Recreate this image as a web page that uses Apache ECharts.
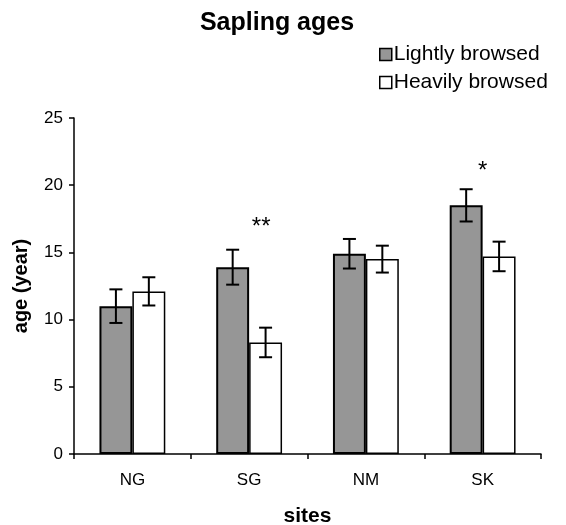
<!DOCTYPE html>
<html>
<head>
<meta charset="utf-8">
<script src="https://cdn.jsdelivr.net/npm/echarts@6/dist/echarts.min.js"></script>
<style>html,body{margin:0;padding:0;background:#fff}#c{width:566px;height:525px}</style>
</head>
<body>
<div id="c"></div>
<script>
const categories = ['NG', 'SG', 'NM', 'SK'];
const lightly = [11.0, 13.9, 14.9, 18.5];
const lightlyErr = [1.25, 1.3, 1.1, 1.2];
const heavily = [12.1, 8.3, 14.5, 14.7];
const heavilyErr = [1.05, 1.1, 1.0, 1.1];
const yTicks = [0, 5, 10, 15, 20, 25];
const sigLabels = ['', '**', '', '*'];
const sigValues = [null, 17.2, null, 21.4];

const FONT = '"Liberation Sans", Arial, sans-serif';
const BAR_FRAC = 0.282;

function errSeries(vals, errs, side) {
  return {
    type: 'custom',
    z: 5,
    silent: true,
    data: vals.map((v, i) => [i, v, errs[i]]),
    renderItem: function (params, api) {
      const i = api.value(0), v = api.value(1), e = api.value(2);
      const band = api.size([1, 0])[0];
      const off = side * band * BAR_FRAC / 2;
      const top = api.coord([i, v + e]);
      const bot = api.coord([i, v - e]);
      const x = top[0] + off;
      const cap = 6.5;
      const st = { stroke: '#000', lineWidth: 2, fill: null };
      return {
        type: 'group',
        children: [
          { type: 'line', shape: { x1: x, y1: top[1], x2: x, y2: bot[1] }, style: st },
          { type: 'line', shape: { x1: x - cap, y1: top[1], x2: x + cap, y2: top[1] }, style: st },
          { type: 'line', shape: { x1: x - cap, y1: bot[1], x2: x + cap, y2: bot[1] }, style: st }
        ]
      };
    }
  };
}

const chart = echarts.init(document.getElementById('c'), null, { renderer: 'canvas' });
chart.setOption({
  animation: false,
  backgroundColor: '#fff',
  textStyle: { fontFamily: FONT },
  title: {
    text: 'Sapling ages',
    left: 272, top: 6, textAlign: 'center',
    textStyle: { fontFamily: FONT, fontSize: 25, fontWeight: 'bold', color: '#000' }
  },
  legend: {
    orient: 'vertical',
    left: 379, top: 44, padding: 0,
    itemWidth: 12, itemHeight: 12, itemGap: 7,
    icon: 'rect',
    textStyle: { fontFamily: FONT, fontSize: 21, color: '#000', padding: [0, 0, 0, -3] },
    data: [
      { name: 'Lightly browsed', itemStyle: { color: '#969696', borderColor: '#000', borderWidth: 1.5 } },
      { name: 'Heavily browsed', itemStyle: { color: '#fff', borderColor: '#000', borderWidth: 1.5 } }
    ]
  },
  grid: { left: 74, right: 25, top: 118, bottom: 71, containLabel: false, outerBoundsMode: 'none' },
  xAxis: {
    type: 'category',
    data: categories,
    name: 'sites',
    nameLocation: 'middle',
    nameGap: 52,
    nameTextStyle: { fontFamily: FONT, fontSize: 21, fontWeight: 'bold', color: '#000' },
    axisLine: { lineStyle: { color: '#000', width: 1.5 } },
    axisTick: { show: true, length: 5, inside: false, lineStyle: { color: '#000', width: 1.5 } },
    axisLabel: { fontFamily: FONT, fontSize: 17, color: '#000', margin: 18 },
    splitLine: { show: false }
  },
  yAxis: {
    type: 'value',
    min: yTicks[0], max: yTicks[yTicks.length - 1], interval: 5,
    name: 'age (year)',
    nameLocation: 'middle',
    nameGap: 43,
    nameTextStyle: { fontFamily: FONT, fontSize: 20, fontWeight: 'bold', color: '#000' },
    axisLine: { show: true, lineStyle: { color: '#000', width: 1.5 } },
    axisTick: { show: true, length: 5, lineStyle: { color: '#000', width: 1.5 } },
    axisLabel: { fontFamily: FONT, fontSize: 17, color: '#000', margin: 11 },
    splitLine: { show: false }
  },
  series: [
    {
      name: 'Lightly browsed', type: 'bar', data: lightly,
      barWidth: (BAR_FRAC * 100) + '%', barGap: '0%',
      itemStyle: { color: '#969696', borderColor: '#000', borderWidth: 2 }
    },
    {
      name: 'Heavily browsed', type: 'bar', data: heavily,
      barWidth: (BAR_FRAC * 100) + '%', barGap: '0%',
      itemStyle: { color: '#fff', borderColor: '#000', borderWidth: 1.5 }
    },
    errSeries(lightly, lightlyErr, -1),
    errSeries(heavily, heavilyErr, 1),
    {
      type: 'custom', z: 6, silent: true,
      data: sigValues.map((v, i) => [i, v, sigLabels[i]]).filter(d => d[1] !== null),
      renderItem: function (params, api) {
        const i = api.value(0), v = api.value(1);
        const p = api.coord([i, v]);
        const lab = sigLabels[i];
        const dx = lab.length > 1 ? 12 : 0;
        return {
          type: 'text',
          style: {
            text: lab, x: p[0] + dx, y: p[1] + 5,
            align: 'center', verticalAlign: 'middle',
            font: '24px ' + FONT, fill: '#000'
          }
        };
      }
    }
  ]
});
</script>
</body>
</html>
